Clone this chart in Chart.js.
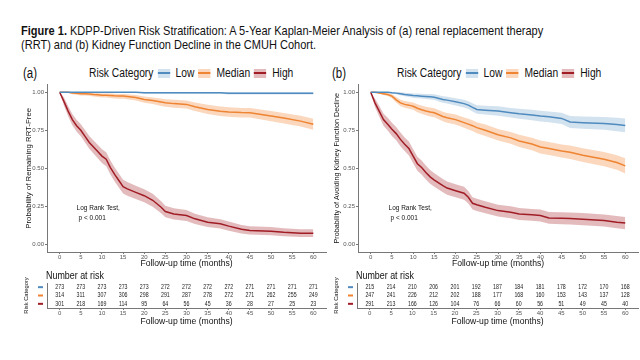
<!DOCTYPE html>
<html>
<head>
<meta charset="utf-8">
<script src="https://cdn.jsdelivr.net/npm/chart.js@4.4.1/dist/chart.umd.min.js"></script>
<style>
  body { margin:0; width:640px; height:360px; position:relative; overflow:hidden; background:#fff;
         font-family:"Liberation Sans",Arial,sans-serif; color:#111; }
  .abs { position:absolute; transform-origin:0 0; }
  #title { left:21px; top:24px; font-size:13px; line-height:14px; white-space:nowrap; transform:scaleX(0.848); }
  .tag { font-size:14px; line-height:16px; transform:scaleX(0.82); }
  .legend { display:flex; align-items:center; font-size:12.5px; line-height:16px; white-space:nowrap; transform:scaleX(0.82); }
  .key { width:15px; height:9px; margin:0 7px 0 5px; position:relative; }
  .key i { position:absolute; left:0; right:0; top:3.5px; height:2px; }
  canvas { position:absolute; }
</style>
</head>
<body>
<div id="title" class="abs"><b>Figure 1.</b> KDPP-Driven Risk Stratification: A 5-Year Kaplan-Meier Analysis of (a) renal replacement therapy<br>(RRT) and (b) Kidney Function Decline in the CMUH Cohort.</div>
<div class="abs tag" style="left:23px;top:65px">(a)</div>
<div class="abs tag" style="left:332px;top:65px">(b)</div>
<div id="legA" class="abs legend" style="left:89px;top:65px"></div>
<div id="legB" class="abs legend" style="left:397px;top:65px"></div>
<canvas id="kmA" width="330" height="190" style="left:0;top:80px"></canvas>
<canvas id="kmB" width="320" height="190" style="left:320px;top:80px"></canvas>
<canvas id="riskA" width="330" height="64" style="left:0;top:264px"></canvas>
<canvas id="riskB" width="320" height="64" style="left:320px;top:264px"></canvas>
<script>
const FONT = "'Liberation Sans', Arial, sans-serif";
const SQUEEZE = 0.81;   // the figure is horizontally compressed

const categories = ['Low', 'Median', 'High'];
const lineColors = ['#4f8bbf', '#ef8432', '#a11d26'];
const bandColors = ['rgba(79,139,191,0.25)', 'rgba(239,132,50,0.32)', 'rgba(161,29,38,0.3)'];
const xTicks = [0, 5, 10, 15, 20, 25, 30, 35, 40, 45, 50, 55, 60];
const yTicks = [0, 0.25, 0.5, 0.75, 1];

// (a) RRT-free survival
const timesA = [0,1,2,3,4,5,6,7,8,9,10,11,12,13,14,15,16,18,20,22,24,25,27,30,32,35,38,40,43,45,50,53,57,60];
const lowA = [1,1,1,1,1,1,1,1,1,1,1,1,1,1,1,1,1,1,0.996,0.996,0.996,0.996,0.996,0.996,0.996,0.996,0.996,0.993,0.993,0.993,0.993,0.993,0.993,0.993];
const lowALower = [1,0.998,0.998,0.998,0.998,0.998,0.998,0.998,0.998,0.998,0.998,0.998,0.998,0.998,0.998,0.998,0.998,0.998,0.99,0.99,0.99,0.99,0.99,0.99,0.99,0.99,0.99,0.985,0.985,0.985,0.985,0.985,0.985,0.985];
const lowAUpper = [1,1,1,1,1,1,1,1,1,1,1,1,1,1,1,1,1,1,1,1,1,1,1,1,1,1,1,1,1,1,1,1,1,1];
const medA = [1,1,1,0.995,0.993,0.99,0.99,0.988,0.985,0.983,0.98,0.98,0.978,0.976,0.975,0.975,0.972,0.965,0.952,0.945,0.935,0.93,0.925,0.92,0.905,0.887,0.875,0.87,0.866,0.865,0.843,0.83,0.81,0.79];
const medALower = [1,1,1,0.987,0.983,0.979,0.979,0.976,0.972,0.969,0.965,0.965,0.962,0.959,0.957,0.957,0.954,0.945,0.93,0.922,0.91,0.904,0.898,0.893,0.876,0.857,0.844,0.838,0.834,0.833,0.809,0.795,0.774,0.753];
const medAUpper = [1,1,1,1,1,0.998,0.998,0.997,0.995,0.994,0.992,0.992,0.991,0.99,0.989,0.989,0.987,0.982,0.972,0.966,0.958,0.954,0.95,0.946,0.933,0.917,0.906,0.901,0.897,0.896,0.876,0.864,0.845,0.826];
const highA = [1,0.94,0.876,0.82,0.78,0.75,0.71,0.67,0.64,0.61,0.58,0.56,0.505,0.46,0.42,0.38,0.365,0.342,0.32,0.29,0.244,0.216,0.2,0.19,0.168,0.146,0.135,0.12,0.1,0.092,0.087,0.08,0.074,0.074];
const highALower = [1,0.913,0.842,0.783,0.741,0.71,0.669,0.628,0.597,0.566,0.535,0.514,0.459,0.414,0.374,0.335,0.32,0.298,0.277,0.248,0.204,0.178,0.163,0.154,0.134,0.114,0.104,0.09,0.072,0.065,0.06,0.054,0.049,0.049];
const highAUpper = [1,0.967,0.91,0.857,0.819,0.79,0.751,0.712,0.683,0.654,0.625,0.606,0.551,0.506,0.466,0.425,0.41,0.386,0.363,0.332,0.284,0.254,0.237,0.226,0.202,0.178,0.166,0.15,0.128,0.119,0.114,0.106,0.099,0.099];

// (b) kidney function decline
const timesB = [0,1,2,3,4,5,6,7,8,9,10,11,12,13,14,15,17,18,20,22,23,24,25,27,30,33,35,38,40,42,45,47,50,55,58,60];
const lowB = [1,1,1,1,1,0.996,0.994,0.99,0.985,0.982,0.978,0.976,0.974,0.972,0.97,0.967,0.952,0.948,0.937,0.925,0.915,0.9,0.887,0.882,0.876,0.865,0.858,0.85,0.843,0.838,0.828,0.804,0.8,0.795,0.788,0.782];
const lowBLower = [1,1,1,1,1,0.99,0.986,0.98,0.973,0.969,0.964,0.961,0.958,0.955,0.952,0.948,0.931,0.926,0.913,0.9,0.889,0.873,0.859,0.853,0.845,0.833,0.825,0.816,0.808,0.802,0.791,0.765,0.76,0.753,0.744,0.737];
const lowBUpper = [1,1,1,1,1,1,1,1,0.997,0.995,0.992,0.991,0.99,0.989,0.988,0.986,0.973,0.97,0.961,0.95,0.941,0.927,0.915,0.911,0.907,0.897,0.891,0.884,0.878,0.874,0.865,0.843,0.84,0.837,0.832,0.827];
const medB = [1,1,0.995,0.99,0.985,0.974,0.95,0.93,0.92,0.915,0.908,0.895,0.885,0.876,0.87,0.865,0.84,0.832,0.82,0.8,0.79,0.78,0.767,0.75,0.72,0.7,0.68,0.66,0.64,0.63,0.614,0.605,0.586,0.56,0.538,0.516];
const medBLower = [1,1,0.99,0.982,0.975,0.961,0.932,0.909,0.898,0.892,0.884,0.869,0.858,0.848,0.841,0.836,0.809,0.8,0.787,0.766,0.755,0.745,0.731,0.713,0.682,0.661,0.64,0.619,0.598,0.588,0.571,0.561,0.541,0.513,0.49,0.466];
const medBUpper = [1,1,1,0.998,0.995,0.987,0.968,0.951,0.942,0.938,0.932,0.921,0.912,0.904,0.899,0.894,0.871,0.864,0.853,0.834,0.825,0.815,0.803,0.787,0.758,0.739,0.72,0.701,0.682,0.672,0.657,0.649,0.631,0.607,0.586,0.566];
const highB = [1,0.93,0.876,0.82,0.79,0.756,0.728,0.69,0.658,0.63,0.58,0.53,0.505,0.473,0.444,0.423,0.386,0.37,0.353,0.336,0.31,0.27,0.26,0.244,0.222,0.211,0.2,0.194,0.19,0.174,0.172,0.17,0.166,0.157,0.146,0.14];
const highBLower = [1,0.902,0.841,0.78,0.748,0.713,0.684,0.645,0.613,0.584,0.534,0.484,0.459,0.427,0.399,0.378,0.342,0.326,0.31,0.294,0.269,0.23,0.22,0.204,0.183,0.172,0.161,0.155,0.151,0.135,0.133,0.131,0.126,0.117,0.106,0.1];
const highBUpper = [1,0.958,0.911,0.86,0.832,0.799,0.772,0.735,0.703,0.676,0.626,0.576,0.551,0.519,0.489,0.468,0.43,0.414,0.396,0.378,0.351,0.31,0.3,0.284,0.261,0.25,0.239,0.233,0.229,0.213,0.211,0.209,0.206,0.197,0.186,0.18];

// number at risk, at xTicks
const riskA = [
  [273,273,273,273,273,272,272,272,272,271,271,271,271],
  [314,311,307,306,298,291,287,278,272,271,262,255,249],
  [301,218,169,114,95,64,56,45,36,28,27,25,23]
];
const riskB = [
  [215,214,210,206,201,192,187,184,181,178,172,170,168],
  [247,241,226,212,202,188,177,168,160,153,143,137,128],
  [291,213,166,126,104,76,66,60,56,51,49,45,40]
];

// legends
function buildLegend(id) {
  const el = document.getElementById(id);
  let html = '<span>Risk Category</span>';
  categories.forEach((c, k) => {
    html += `<span class="key" style="background:${bandColors[k]}"><i style="background:${lineColors[k]}"></i></span><span>${c}</span>`;
  });
  el.innerHTML = html;
}
buildLegend('legA');
buildLegend('legB');

const pts = (times, vals) => times.map((t, i) => ({ x: t, y: vals[i] }));

// squeezed text drawn straight on the canvas
function squeezedText(ctx, text, x, y, size, align) {
  ctx.save();
  ctx.translate(x, y);
  ctx.scale(SQUEEZE, 1);
  ctx.font = `${size}px ${FONT}`;
  ctx.textAlign = align || 'left';
  ctx.textBaseline = 'middle';
  ctx.fillText(text, 0, 0);
  ctx.restore();
}

function xScale(height) {
  return {
    type: 'linear', min: -3, max: 63,
    afterBuildTicks: s => { s.ticks = xTicks.map(v => ({ value: v })); },
    afterFit: s => { s.height = height; },
    ticks: { autoSkip: false, maxRotation: 0, padding: 0, color: '#555', font: { family: FONT, size: 6 } },
    grid: { drawOnChartArea: false, tickLength: 2, color: '#777' },
    border: { color: '#777' },
    title: { display: true, text: 'Follow-up time (months)', color: '#111',
             font: { family: FONT, size: 8.6 }, padding: { top: 0, bottom: 1.5 } }
  };
}

function notePlugin(t, v) {
  return {
    id: 'logRankNote',
    afterDatasetsDraw(chart) {
      const { ctx, scales: { x, y } } = chart;
      ctx.fillStyle = '#111';
      squeezedText(ctx, 'Log Rank Test,', x.getPixelForValue(t), y.getPixelForValue(v), 8);
      squeezedText(ctx, 'p < 0.001', x.getPixelForValue(t) + 2, y.getPixelForValue(v) + 10, 8);
    }
  };
}

function kmChart(id, times, series, yTitle, yWidth, titlePad, titleSize, padRight, note) {
  const datasets = [];
  series.forEach((s, k) => datasets.push({
    label: categories[k], data: pts(times, s[0]), borderColor: lineColors[k], borderWidth: 1.5,
    pointRadius: 0, fill: false
  }));
  series.forEach((s, k) => {
    datasets.push({ data: pts(times, s[2]), borderWidth: 0, borderColor: 'transparent', pointRadius: 0,
                    fill: '+1', backgroundColor: bandColors[k] });
    datasets.push({ data: pts(times, s[1]), borderWidth: 0, borderColor: 'transparent', pointRadius: 0,
                    fill: false });
  });
  return new Chart(document.getElementById(id), {
    type: 'line',
    data: { datasets },
    options: {
      responsive: false, animation: false, events: [],
      layout: { padding: { top: 4, right: padRight } },
      plugins: { legend: { display: false }, tooltip: { enabled: false } },
      scales: {
        x: xScale(18),
        y: {
          min: -0.05, max: 1.05,
          afterBuildTicks: s => { s.ticks = yTicks.map(v => ({ value: v })); },
          afterFit: s => { s.width = yWidth; },
          ticks: { padding: 1, color: '#555', font: { family: FONT, size: 6 }, callback: v => v.toFixed(2) },
          grid: { drawOnChartArea: false, tickLength: 2, color: '#777' },
          border: { color: '#777' },
          title: { display: true, text: yTitle, color: '#111', font: { family: FONT, size: titleSize },
                   padding: { top: titlePad, bottom: 0 } }
        }
      }
    },
    plugins: [notePlugin(note[0], note[1])]
  });
}

function riskChart(id, rows, yWidth, titlePad, padRight) {
  const tablePlugin = {
    id: 'riskTable',
    afterDatasetsDraw(chart) {
      const { ctx, chartArea, scales: { x, y } } = chart;
      ctx.fillStyle = '#111';
      squeezedText(ctx, 'Number at risk', chartArea.left - 1, 12, 11);
      rows.forEach((row, r) => {
        const py = y.getPixelForValue(r);
        ctx.fillStyle = '#222';
        row.forEach((n, i) => squeezedText(ctx, String(n), x.getPixelForValue(xTicks[i]), py, 6.5, 'center'));
        ctx.save();
        ctx.strokeStyle = lineColors[r];
        ctx.lineWidth = 2;
        ctx.beginPath();
        ctx.moveTo(chartArea.left - 9, py);
        ctx.lineTo(chartArea.left - 4, py);
        ctx.stroke();
        ctx.restore();
      });
    }
  };
  return new Chart(document.getElementById(id), {
    type: 'line',
    data: { labels: categories, datasets: [] },
    options: {
      responsive: false, animation: false, events: [],
      layout: { padding: { top: 19, right: padRight } },
      plugins: { legend: { display: false }, tooltip: { enabled: false } },
      scales: {
        x: xScale(20),
        y: {
          type: 'category', labels: categories, offset: true,
          afterFit: s => { s.width = yWidth; },
          ticks: { display: false },
          grid: { display: false },
          border: { color: '#777' },
          title: { display: true, text: 'Risk Category', color: '#111', font: { family: FONT, size: 5.8 },
                   padding: { top: titlePad, bottom: 0 } }
        }
      }
    },
    plugins: [tablePlugin]
  });
}

kmChart('kmA', timesA,
  [[lowA, lowALower, lowAUpper], [medA, medALower, medAUpper], [highA, highALower, highAUpper]],
  'Probability of Remaining RRT-Free', 47, 24, 7.8, 4, [4, 0.24]);
kmChart('kmB', timesB,
  [[lowB, lowBLower, lowBUpper], [medB, medBLower, medBUpper], [highB, highBLower, highBUpper]],
  'Probability of Avoiding Kidney Function Decline', 38, 13, 7.2, 2, [4.2, 0.24]);
riskChart('riskA', riskA, 47, 23, 4);
riskChart('riskB', riskB, 37, 12.5, 2);
</script>
</body>
</html>
